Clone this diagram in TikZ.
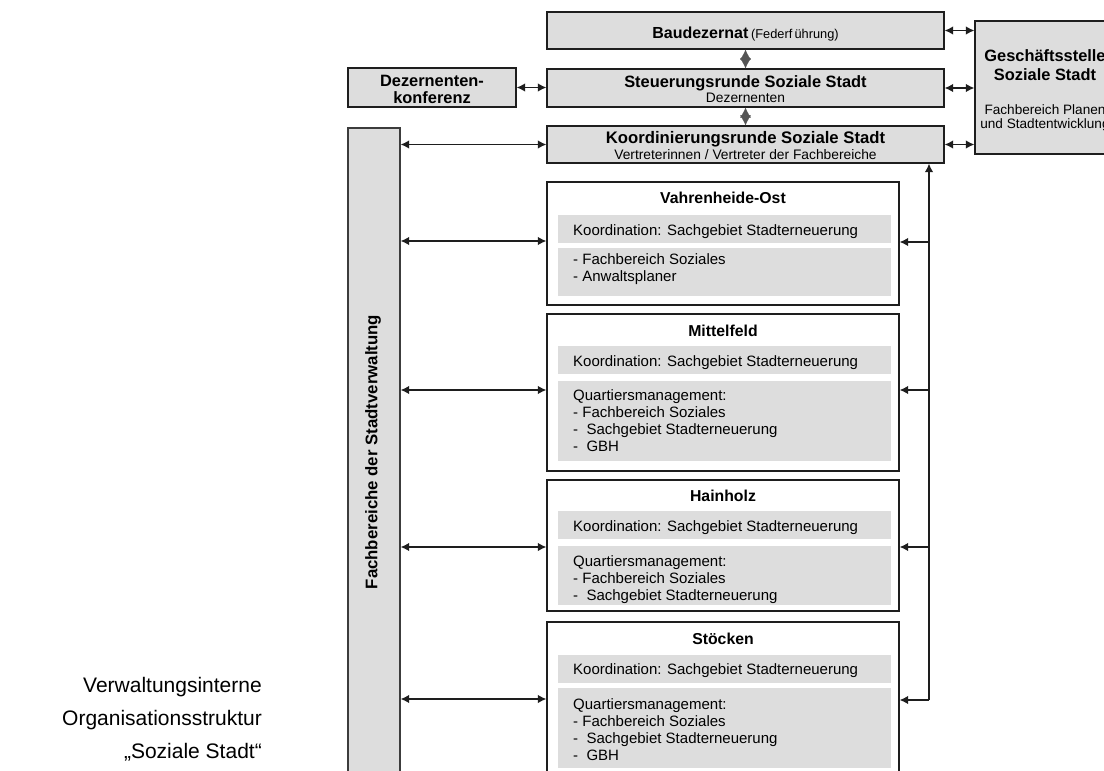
\documentclass[tikz,border=0pt]{standalone}
\usepackage{fontspec}
\setmainfont{Liberation Sans}
\usetikzlibrary{arrows.meta}
\definecolor{boxgray}{HTML}{DDDDDD}
\definecolor{edge}{HTML}{1E1E1E}
\definecolor{darkg}{HTML}{555555}
\begin{document}
\begin{tikzpicture}[x=1pt,y=-1pt,
  box/.style={draw=edge,line width=1.3pt,fill=boxgray,inner sep=0pt,minimum width=#1},
  dbox/.style={draw=edge,line width=1.3pt,fill=white,inner sep=0pt,minimum width=352pt},
  ibox/.style={fill=boxgray,inner sep=0pt,minimum width=333pt},
  lb/.style={inner sep=0pt,anchor=base},
  lbw/.style={inner sep=0pt,anchor=base west},
  ttl/.style={font=\fontsize{16.4}{18}\selectfont\bfseries},
  dttl/.style={font=\fontsize{15.8}{18}\selectfont\bfseries},
  sml/.style={font=\fontsize{13.8}{15}\selectfont},
  txt/.style={font=\fontsize{15}{17}\selectfont},
  captxt/.style={inner sep=0pt,anchor=base east,font=\fontsize{21}{24}\selectfont},
  both/.style={{Latex[length=8.5pt,width=8.5pt]}-{Latex[length=8.5pt,width=8.5pt]},line width=1.3pt,draw=edge},
  tip/.style={-{Latex[length=8.5pt,width=8.5pt]},line width=1.3pt,draw=edge},
  diam/.style={{Latex[length=10pt,width=11pt]}-{Latex[length=10pt,width=11pt]},draw=darkg,fill=darkg,line width=0.4pt},
]
\useasboundingbox (0,0) rectangle (1104,771);

% top boxes
\node[box=397pt,minimum height=37pt] (bau) at (745.5,30.5) {};
\node[box=397pt,minimum height=38pt] (steu) at (745.5,88) {};
\node[box=397pt,minimum height=37pt] (koord) at (745.5,144.5) {};
\node[box=140pt,minimum height=133pt] (gs) at (1045,87.5) {};
\node[box=168pt,minimum height=39pt] (dk) at (432,87.5) {};
\node[box=52pt,minimum height=672pt,draw=darkg!70!black] (bar) at (374,464) {};

% top texts
\node[lb] (bau-t) at (745.5,38.6) {{\fontsize{16}{18}\selectfont\bfseries Baudezernat} {\fontsize{12.8}{14}\selectfont (Federf\,ührung)}};
\node[lb,ttl] (steu-t) at (745.5,87) {Steuerungsrunde Soziale Stadt};
\node[lb,sml] (steu-s) at (745.5,102.6) {Dezernenten};
\node[lb,ttl,font=\fontsize{16.7}{18}\selectfont\bfseries] (koord-t) at (745.5,143) {Koordinierungsrunde Soziale Stadt};
\node[lb,sml] (koord-s) at (745.5,159) {Vertreterinnen / Vertreter der Fachbereiche};
\node[lb,ttl] (gs-t1) at (1045,61.7) {Geschäftsstelle};
\node[lb,ttl] (gs-t2) at (1045,80) {Soziale Stadt};
\node[lb,sml,font=\fontsize{13.6}{15}\selectfont] (gs-s1) at (1045,114) {Fachbereich Planen};
\node[lb,sml,font=\fontsize{13.6}{15}\selectfont] (gs-s2) at (1045,128.5) {und Stadtentwicklung};
\node[lb,ttl] (dk-t1) at (432,86) {Dezernenten-};
\node[lb,ttl] (dk-t2) at (432,103.3) {konferenz};
\node[rotate=90,inner sep=0pt,font=\fontsize{16.8}{18}\selectfont\bfseries] (bar-t) at (373,452) {Fachbereiche der Stadtverwaltung};

% district boxes
\node[dbox,minimum height=123pt] (vo) at (723,243.5) {};
\node[dbox,minimum height=157pt] (mf) at (723,392.5) {};
\node[dbox,minimum height=131pt] (hh) at (723,545.5) {};
\node[dbox,minimum height=178pt] (st) at (723,711) {};

\node[ibox,minimum height=28pt] (vo-k) at (724.5,229) {};
\node[ibox,minimum height=48pt] (vo-q) at (724.5,272) {};
\node[ibox,minimum height=28pt] (mf-k) at (724.5,360) {};
\node[ibox,minimum height=80pt] (mf-q) at (724.5,421) {};
\node[ibox,minimum height=28pt] (hh-k) at (724.5,525) {};
\node[ibox,minimum height=59pt] (hh-q) at (724.5,575.5) {};
\node[ibox,minimum height=28pt] (st-k) at (724.5,669) {};
\node[ibox,minimum height=80pt] (st-q) at (724.5,728) {};

% district texts
\node[lb,dttl] (vo-t) at (723,203.3) {Vahrenheide-Ost};
\node[lbw,txt] (vo-k-t) at (573,235) {Koordination: Sachgebiet Stadterneuerung};
\node[lbw,txt] (vo-l1) at (573,264.3) {- Fachbereich Soziales};
\node[lbw,txt] (vo-l2) at (573,281.7) {- Anwaltsplaner};

\node[lb,dttl] (mf-t) at (723,336.7) {Mittelfeld};
\node[lbw,txt] (mf-k-t) at (573,366) {Koordination: Sachgebiet Stadterneuerung};
\node[lbw,txt] (mf-l1) at (573,400) {Quartiersmanagement:};
\node[lbw,txt] (mf-l2) at (573,417.2) {- Fachbereich Soziales};
\node[lbw,txt] (mf-l3) at (573,434.4) {-\ \ Sachgebiet Stadterneuerung};
\node[lbw,txt] (mf-l4) at (573,451.6) {-\ \ GBH};

\node[lb,dttl] (hh-t) at (723,501.5) {Hainholz};
\node[lbw,txt] (hh-k-t) at (573,531) {Koordination: Sachgebiet Stadterneuerung};
\node[lbw,txt] (hh-l1) at (573,566) {Quartiersmanagement:};
\node[lbw,txt] (hh-l2) at (573,583.2) {- Fachbereich Soziales};
\node[lbw,txt] (hh-l3) at (573,600.4) {-\ \ Sachgebiet Stadterneuerung};

\node[lb,dttl] (st-t) at (723,644.3) {Stöcken};
\node[lbw,txt] (st-k-t) at (573,674.3) {Koordination: Sachgebiet Stadterneuerung};
\node[lbw,txt] (st-l1) at (573,709) {Quartiersmanagement:};
\node[lbw,txt] (st-l2) at (573,726.2) {- Fachbereich Soziales};
\node[lbw,txt] (st-l3) at (573,743.4) {-\ \ Sachgebiet Stadterneuerung};
\node[lbw,txt] (st-l4) at (573,760.6) {-\ \ GBH};

% caption
\node[captxt] (cap1) at (262,692.5) {Verwaltungsinterne};
\node[captxt] (cap2) at (262,725.5) {Organisationsstruktur};
\node[captxt] (cap3) at (262,758.5) {„Soziale Stadt“};

% connectors top
\draw[diam] (bau.south) -- (steu.north);
\draw[diam] (steu.south) -- (koord.north);
\draw[both] (bau.east) -- (bau.east -| gs.west);
\draw[both] (steu.east) -- (steu.east -| gs.west);
\draw[both] (koord.east) -- (koord.east -| gs.west);
\draw[both] (dk.east) -- (dk.east -| steu.west);
\draw[both] (koord.west -| bar.east) -- (koord.west);

% left arrows
\coordinate (y1) at (0,241);
\coordinate (y2) at (0,390);
\coordinate (y3) at (0,547);
\coordinate (y4) at (0,699);
\draw[both] (bar.east |- y1) -- (vo.west |- y1);
\draw[both] (bar.east |- y2) -- (mf.west |- y2);
\draw[both] (bar.east |- y3) -- (hh.west |- y3);
\draw[both] (bar.east |- y4) -- (st.west |- y4);

% right feedback line
\coordinate (rb) at (929,700);
\draw[tip] (rb) -- (rb |- koord.south);
\coordinate (r1) at (929,242);
\coordinate (r2) at (929,390);
\coordinate (r3) at (929,547);
\draw[tip] (r1) -- (vo.east |- r1);
\draw[tip] (r2) -- (mf.east |- r2);
\draw[tip] (r3) -- (hh.east |- r3);
\draw[tip] (rb) -- (st.east |- rb);
\end{tikzpicture}
\end{document}
